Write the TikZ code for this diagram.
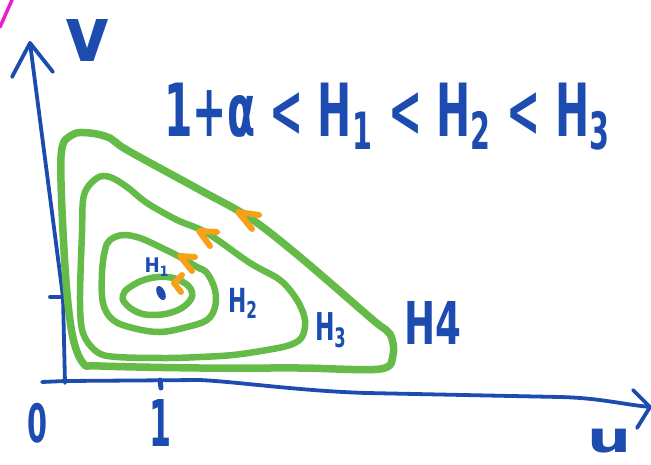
\documentclass[tikz,border=0pt]{standalone}
\usepackage{fontspec}
\setmainfont{DejaVu Sans}
\definecolor{penblue}{RGB}{28,76,176}
\definecolor{pengreen}{RGB}{100,187,72}
\definecolor{penorange}{RGB}{247,160,24}
\definecolor{penmagenta}{RGB}{232,30,210}
\tikzset{
  axisline/.style={penblue, line width=3.8pt, line cap=round, line join=round},
  level/.style={pengreen, line width=6.5pt, line cap=round, line join=round},
  flowmark/.style={penorange, line width=6pt, line cap=round, line join=round},
  lbl/.style={penblue, inner sep=0pt, outer sep=0pt, font=\bfseries}
}
\newcommand{\fitbox}[3]{\resizebox*{#1pt}{#2pt}{#3}}
\begin{document}
\begin{tikzpicture}[x=1pt,y=-1pt]
\useasboundingbox (0,0) rectangle (651,464);
% magenta stroke
\draw[penmagenta, line width=3.5pt, line cap=round] (0,27) -- (12,0);
% axes
\coordinate (yb) at (65,383);
\coordinate (yt) at (30,43);
\draw[axisline] (yb) -- (63,297) -- (yt);
\draw[axisline] (12,77) -- (yt) -- (53,72);
\draw[axisline] (50,297) -- (63,297);
\coordinate (xl) at (42,382);
\coordinate (xr) at (650,407);
\draw[axisline] (xl) -- (65,381) -- (200,380) .. controls (240,382) and (300,391) .. (367,393) -- (560,397) .. controls (600,398) and (620,404) .. (xr);
\draw[axisline] (633,390) -- (xr) -- (637,428);
\draw[axisline, line width=5pt] (160,380) -- (161,388);
% level curves
\draw[level, line width=7.5pt] plot[smooth cycle, tension=0.55] coordinates {
 (72,135) (90,133) (110,138) (127,150) (200,190) (250,218) (300,257) (373,320) (390,334) (393,355) (380,369) (300,368) (200,368) (100,366) (83,363) (72,333) (65,267) (61,157)};
\draw[level] plot[smooth cycle, tension=0.55] coordinates {
 (97,178) (110,177) (127,187) (147,203) (177,220) (207,233) (250,263) (280,280) (297,300) (305,320) (302,337) (290,345) (267,350) (233,355) (200,357) (167,358) (117,357) (97,352) (83,333) (80,300) (82,233) (84,195)};
\draw[level] plot[smooth cycle, tension=0.6] coordinates {
 (123,235) (140,238) (160,247) (180,257) (197,267) (207,273) (215,290) (215,307) (207,320) (187,327) (160,332) (133,328) (113,320) (103,303) (102,273) (105,250) (110,240)};
\draw[level] plot[smooth cycle, tension=0.7] coordinates {
 (123,295) (130,287) (147,279) (167,277) (183,282) (192,292) (188,303) (173,312) (153,315) (137,312) (125,303)};
% equilibrium point
\fill[penblue, rotate around={25:(161,293)}] (161,293) ellipse (4pt and 7.5pt);
% direction marks
\draw[flowmark] (259,215) -- (238,212) -- (252,229);
\draw[flowmark] (217,232) -- (199,231) -- (210,246);
\draw[flowmark] (195,257) -- (180,256) -- (192,271);
\draw[flowmark] (182,275) -- (174,283) -- (181,292);
% labels
\node[lbl] (title) at (388,117) {\fitbox{447}{67}{1+α < H\textsubscript{1} < H\textsubscript{2} < H\textsubscript{3}}};
\node[lbl] (vlab) at (88,40) {\fitbox{44}{42}{v}};
\node[lbl] (ulab) at (610,441) {\fitbox{44}{24}{u}};
\node[lbl] (zero) at (38,423) {\fitbox{20}{40}{0}};
\node[lbl] (one) at (160,423) {\fitbox{22}{47}{1}};
\node[lbl] (h1) at (157,267) {\fitbox{25}{18}{H\textsubscript{1}}};
\node[lbl] (h2) at (243,303) {\fitbox{30}{30}{H\textsubscript{2}}};
\node[lbl] (h3) at (331,330) {\fitbox{32}{35}{H\textsubscript{3}}};
\node[lbl] (h4) at (433,323) {\fitbox{57}{43}{H4}};
\end{tikzpicture}
\end{document}
